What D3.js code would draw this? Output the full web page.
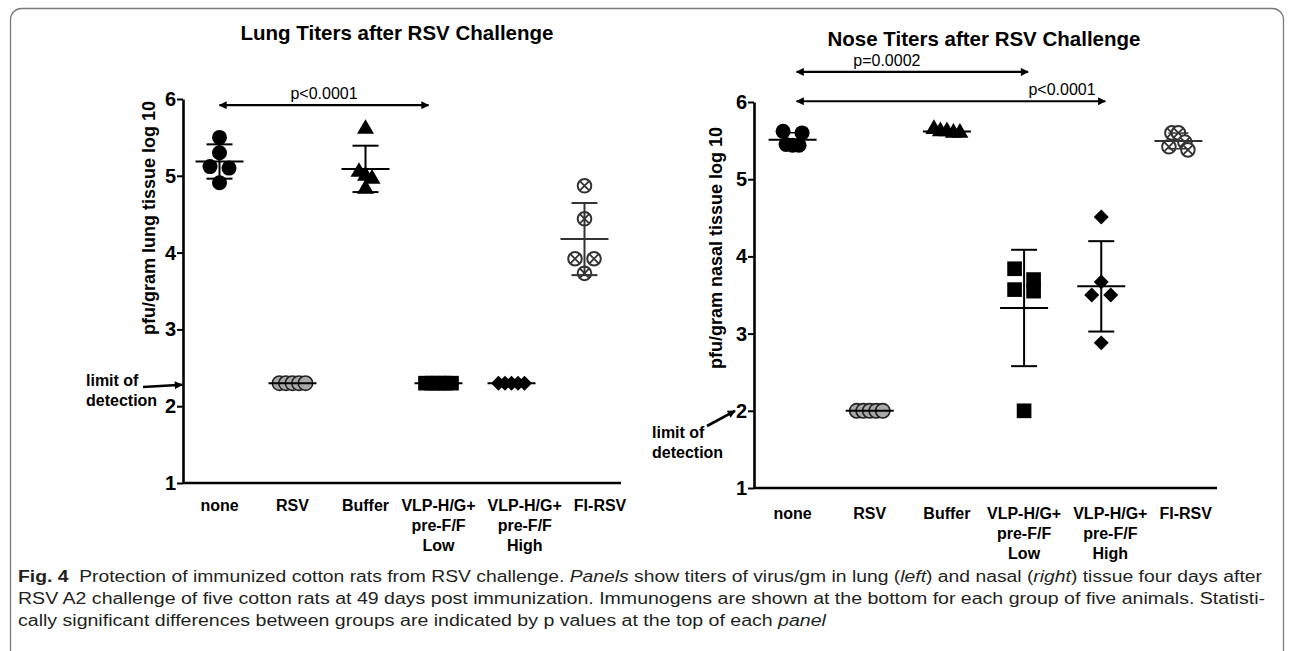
<!DOCTYPE html>
<html>
<head>
<meta charset="utf-8" />
<title>RSV challenge titers</title>
<style>
  body { margin: 0; background: #fff; }
  svg { display: block; font-family: "Liberation Sans", Arial, sans-serif; }
</style>
</head>
<body>
<svg width="1293" height="651"></svg>

<script src="https://cdn.jsdelivr.net/npm/d3@7"></script>
<script>
// groups, in axis order
const groups = ["none", "RSV", "Buffer", "VLP Low", "VLP High", "FI-RSV"];
const groupLabels = [["none"], ["RSV"], ["Buffer"], ["VLP-H/G+", "pre-F/F", "Low"], ["VLP-H/G+", "pre-F/F", "High"], ["FI-RSV"]];
const groupMarks = ["circle", "grey", "triangle", "square", "diamond", "cross"];
const yTicks = [1, 2, 3, 4, 5, 6];

// log10 pfu/gram, five animals per group
const lungValues = [
    [5.50, 5.30, 5.12, 5.10, 4.91],
    [2.30, 2.30, 2.30, 2.30, 2.30],
    [5.61, 5.05, 5.00, 4.96, 4.83],
    [2.30, 2.30, 2.30, 2.30, 2.30],
    [2.30, 2.30, 2.30, 2.30, 2.30],
    [4.87, 4.44, 3.92, 3.92, 3.73]
];
const noseValues = [
    [5.62, 5.60, 5.45, 5.44, 5.44],
    [2.00, 2.00, 2.00, 2.00, 2.00],
    [5.65, 5.62, 5.60, 5.60, 5.62],
    [3.84, 3.70, 3.55, 3.57, 2.00],
    [4.51, 3.67, 3.50, 3.50, 2.88],
    [5.60, 5.60, 5.48, 5.42, 5.38]
];
const lungLimit = 2.28;
const noseLimit = 2.0;

// significance brackets (group index from/to, height in axis units)
const lungStats = [{ from: 0, to: 3, level: 5.92, text: "p<0.0001", at: 0.5 }];
const noseStats = [
    { from: 0, to: 3, level: 6.39, text: "p=0.0002", at: 0.39 },
    { from: 0, to: 4, level: 6.01, text: "p<0.0001", at: 0.86 }
];

var svg = d3.select('svg');

// figure frame
svg.append('rect')
    .attr('x', 10.5).attr('y', 8.5)
    .attr('width', 1273).attr('height', 700)
    .attr('rx', 11)
    .attr('fill', 'none')
    .attr('stroke', '#7a7a7a')
    .attr('stroke-width', 1.3);

var defs = svg.append('defs');
defs.append('marker')
    .attr('id', 'head')
    .attr('viewBox', '0 0 10 10')
    .attr('refX', 9).attr('refY', 5)
    .attr('markerWidth', 10).attr('markerHeight', 8)
    .attr('markerUnits', 'userSpaceOnUse')
    .attr('orient', 'auto-start-reverse')
    .append('path')
    .attr('d', 'M0,0L10,5L0,10Z')
    .attr('fill', '#000');

// spread overlapping points sideways, like a dot plot
function spread(ys) {
    var idx = d3.range(ys.length).sort(function (a, b) { return ys[a] - ys[b]; });
    var off = ys.map(function () { return 0; });
    var cluster = [];
    function flush() {
        var n = cluster.length, s = n === 2 ? 19 : 6.5;
        cluster.forEach(function (i, k) { off[i] = (k - (n - 1) / 2) * s; });
        cluster = [];
    }
    idx.forEach(function (i) {
        if (cluster.length && ys[i] - ys[cluster[0]] > 12) flush();
        cluster.push(i);
    });
    flush();
    return off;
}

function drawMark(g, kind, x, y) {
    if (kind === 'circle') {
        g.append('circle').attr('cx', x).attr('cy', y).attr('r', 7.5).attr('fill', '#000');
    } else if (kind === 'grey') {
        g.append('circle').attr('cx', x).attr('cy', y).attr('r', 7.2)
            .attr('fill', '#a9a9a9').attr('stroke', '#222').attr('stroke-width', 1.6);
    } else if (kind === 'triangle') {
        g.append('path').attr('d', d3.symbol(d3.symbolTriangle, 125)())
            .attr('transform', 'translate(' + x + ',' + y + ')').attr('fill', '#000');
    } else if (kind === 'square') {
        g.append('path').attr('d', d3.symbol(d3.symbolSquare, 215)())
            .attr('transform', 'translate(' + x + ',' + y + ')').attr('fill', '#000');
    } else if (kind === 'diamond') {
        g.append('path').attr('d', d3.symbol(d3.symbolSquare, 112)())
            .attr('transform', 'translate(' + x + ',' + y + ') rotate(45)').attr('fill', '#000');
    } else if (kind === 'cross') {
        var c = g.append('g').attr('transform', 'translate(' + x + ',' + y + ')');
        c.append('circle').attr('r', 6.8).attr('fill', '#fff')
            .attr('stroke', '#333').attr('stroke-width', 2);
        c.append('path').attr('d', 'M-4.6,-4.6L4.6,4.6M-4.6,4.6L4.6,-4.6')
            .attr('stroke', '#333').attr('stroke-width', 1.8);
    }
}

function drawPanel(p) {
    var g = svg.append('g');

    var x = d3.scalePoint().domain(groups).range([p.x0, p.x1]).padding(0.5);
    var y = d3.scaleLinear().domain([1, 6]).range([p.yBot, p.yTop]);

    g.append('text')
        .attr('x', p.titleX).attr('y', p.titleY)
        .attr('text-anchor', 'middle')
        .attr('font-weight', 'bold').attr('font-size', 20.5)
        .text(p.title);

    // y axis
    var ya = g.append('g')
        .attr('transform', 'translate(' + p.x0 + ',0)')
        .call(d3.axisLeft(y).tickValues(yTicks).tickFormat(d3.format('d')).tickSize(6).tickSizeOuter(0));
    ya.select('.domain').attr('stroke-width', 2.6);
    ya.selectAll('.tick line').attr('stroke-width', 2);
    ya.selectAll('.tick text')
        .attr('font-family', '"Liberation Sans", Arial, sans-serif')
        .attr('font-weight', 'bold').attr('font-size', 20).attr('x', -7).attr('fill', '#000');

    // x axis line
    g.append('line')
        .attr('x1', p.x0).attr('x2', p.x1)
        .attr('y1', p.yBot).attr('y2', p.yBot)
        .attr('stroke', '#000').attr('stroke-width', 2.6);

    g.append('text')
        .attr('transform', 'translate(' + p.ylabX + ',' + p.ylabY + ') rotate(-90)')
        .attr('text-anchor', 'middle')
        .attr('font-weight', 'bold').attr('font-size', 18)
        .text(p.ylabel);

    // category labels, nudged right when they would collide
    var prevRight = -Infinity;
    groups.forEach(function (grp, i) {
        var t = g.append('text')
            .attr('text-anchor', 'middle')
            .attr('font-weight', 'bold').attr('font-size', 16);
        groupLabels[i].forEach(function (line, k) {
            t.append('tspan').attr('dy', k === 0 ? 0 : 20).text(line);
        });
        var w = d3.max(t.selectAll('tspan').nodes(), function (n) { return n.getComputedTextLength(); });
        var cx = x(grp);
        if (cx - w / 2 < prevRight + 12) cx = prevRight + 12 + w / 2;
        prevRight = cx + w / 2;
        t.attr('y', p.labelY);
        t.selectAll('tspan').attr('x', cx);
    });

    // points
    var marks = g.append('g');
    p.values.forEach(function (vals, i) {
        var ys = vals.map(y);
        var off = spread(ys);
        vals.forEach(function (v, k) {
            drawMark(marks, groupMarks[i], x(groups[i]) + off[k], ys[k]);
        });
    });

    // mean and SD bars
    var bars = g.append('g').attr('stroke-width', 2);
    p.values.forEach(function (vals, i) {
        var cx = x(groups[i]);
        var m = d3.mean(vals), sd = d3.deviation(vals);
        var col = groupMarks[i] === 'cross' ? '#333' : '#000';
        bars.append('line').attr('x1', cx - 24).attr('x2', cx + 24)
            .attr('y1', y(m)).attr('y2', y(m)).attr('stroke', col);
        if (sd > 0.15) {
            bars.append('line').attr('x1', cx).attr('x2', cx)
                .attr('y1', y(m + sd)).attr('y2', y(m - sd)).attr('stroke', col);
            [m + sd, m - sd].forEach(function (v) {
                bars.append('line').attr('x1', cx - 13).attr('x2', cx + 13)
                    .attr('y1', y(v)).attr('y2', y(v)).attr('stroke', col);
            });
        } else if (sd > 0) {
            [m + sd, m - sd].forEach(function (v) {
                bars.append('line').attr('x1', cx - 10).attr('x2', cx + 10)
                    .attr('y1', y(v)).attr('y2', y(v)).attr('stroke', col).attr('stroke-width', 1.5);
            });
        }
    });

    // p value arrows
    p.stats.forEach(function (s) {
        var xa = x(groups[s.from]) + p.arrowPad[0], xb = x(groups[s.to]) + p.arrowPad[1];
        g.append('line')
            .attr('x1', xa).attr('x2', xb)
            .attr('y1', y(s.level)).attr('y2', y(s.level))
            .attr('stroke', '#000').attr('stroke-width', 2.2)
            .attr('marker-start', 'url(#head)').attr('marker-end', 'url(#head)');
        g.append('text')
            .attr('x', xa + (xb - xa) * s.at).attr('y', y(s.level) - 6)
            .attr('text-anchor', 'middle').attr('font-size', 16)
            .text(s.text);
    });

    // limit of detection note
    var lt = g.append('text').attr('font-weight', 'bold').attr('font-size', 16);
    lt.append('tspan').attr('x', p.lodText[0]).attr('y', p.lodText[1]).text('limit of');
    lt.append('tspan').attr('x', p.lodText[0]).attr('y', p.lodText[1] + 20).text('detection');
    g.append('line')
        .attr('x1', p.lodFrom[0]).attr('y1', p.lodFrom[1])
        .attr('x2', p.lodTo[0]).attr('y2', y(p.limit) + p.lodTo[1])
        .attr('stroke', '#000').attr('stroke-width', 2.6)
        .attr('marker-end', 'url(#head)');
}

drawPanel({
    x0: 183, x1: 621, yTop: 99, yBot: 483,
    title: 'Lung Titers after RSV Challenge', titleX: 397, titleY: 40,
    ylabel: 'pfu/gram lung tissue log 10', ylabX: 155, ylabY: 218,
    labelY: 511,
    values: lungValues, stats: lungStats, arrowPad: [0, -10],
    limit: lungLimit, lodText: [86, 386], lodFrom: [143, 387], lodTo: [182, 0]
});

drawPanel({
    x0: 754, x1: 1217, yTop: 102, yBot: 488,
    title: 'Nose Titers after RSV Challenge', titleX: 984, titleY: 46,
    ylabel: 'pfu/gram nasal tissue log 10', ylabX: 722, ylabY: 248,
    labelY: 519,
    values: noseValues, stats: noseStats, arrowPad: [4, 4],
    limit: noseLimit, lodText: [652, 438], lodFrom: [707, 426], lodTo: [735, 0]
});

// caption
var cap = svg.append('g')
    .attr('font-family', '"Liberation Sans Narrow", "Liberation Sans", Arial, sans-serif')
    .attr('font-size', 16).attr('fill', '#231f20');

var l1 = cap.append('text').attr('x', 18).attr('y', 582);
l1.append('tspan').attr('font-weight', 'bold').attr('font-family', '"Liberation Sans", Arial, sans-serif').text('Fig. 4');
l1.append('tspan').text('\u00a0 Protection of immunized cotton rats from RSV challenge. ');
l1.append('tspan').attr('font-style', 'italic').text('Panels');
l1.append('tspan').text(' show titers of virus/gm in lung (');
l1.append('tspan').attr('font-style', 'italic').text('left');
l1.append('tspan').text(') and nasal (');
l1.append('tspan').attr('font-style', 'italic').text('right');
l1.append('tspan').text(') tissue four days after');

var l2 = cap.append('text').attr('x', 18).attr('y', 604)
    .text('RSV A2 challenge of five cotton rats at 49 days post immunization. Immunogens are shown at the bottom for each group of five animals. Statisti-');

var l3 = cap.append('text').attr('x', 18).attr('y', 626);
l3.append('tspan').text('cally significant differences between groups are indicated by p values at the top of each ');
l3.append('tspan').attr('font-style', 'italic').text('panel');

// squeeze lines 1 and 2 to the full width; line 3 gets the same squeeze
var squeeze = 1247 / l2.node().getComputedTextLength();
l1.attr('textLength', 1244).attr('lengthAdjust', 'spacingAndGlyphs');
l3.attr('textLength', l3.node().getComputedTextLength() * squeeze).attr('lengthAdjust', 'spacingAndGlyphs');
l2.attr('textLength', 1247).attr('lengthAdjust', 'spacingAndGlyphs');
</script>
</body>
</html>
